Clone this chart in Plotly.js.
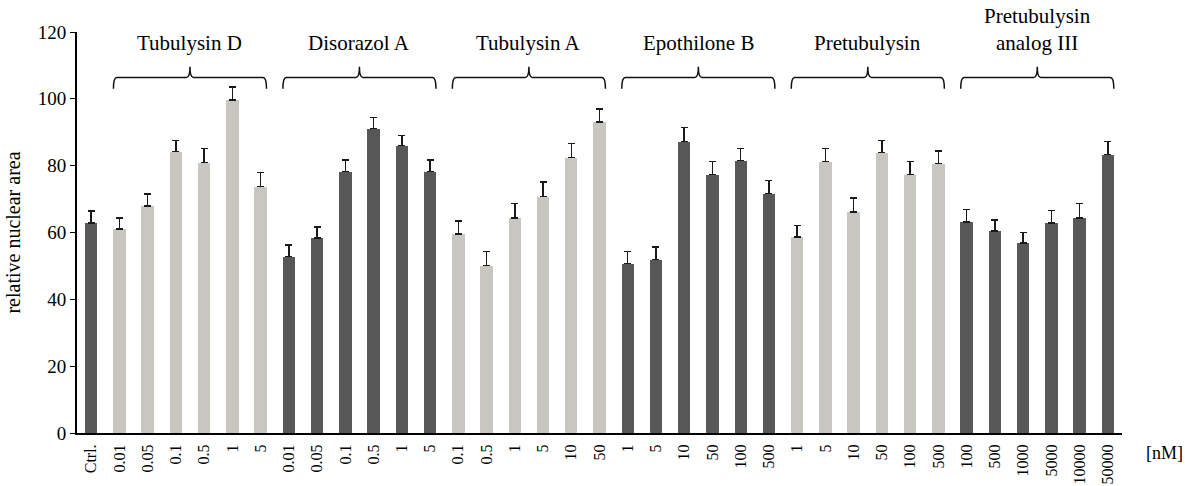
<!DOCTYPE html>
<html>
<head>
<meta charset="utf-8">
<script src="https://cdn.plot.ly/plotly-3.0.1.min.js"></script>
<style>html,body{margin:0;padding:0;background:#fff;}#chart{width:1185px;height:486px;}</style>
</head>
<body>
<div id="chart"></div>
<script>
// Tick labels (concentrations, nM), one per bar
const tickLabels = ["Ctrl.",
  "0.01","0.05","0.1","0.5","1","5",
  "0.01","0.05","0.1","0.5","1","5",
  "0.1","0.5","1","5","10","50",
  "1","5","10","50","100","500",
  "1","5","10","50","100","500",
  "100","500","1000","5000","10000","50000"];
// Bar heights (relative nuclear area)
const values = [62.9,
  61.1,68.0,84.2,80.9,99.7,73.7,
  52.8,58.4,78.2,91.1,86.0,78.2,
  59.6,50.1,64.4,70.7,82.4,93.1,
  50.7,51.9,87.2,77.3,81.5,71.6,
  58.7,81.2,66.2,83.9,77.3,80.6,
  63.2,60.5,56.9,62.9,64.4,83.3];
// Upper error (SEM) values
const errors = [3.6,
  3.3,3.5,3.4,4.3,3.9,4.2,
  3.5,3.3,3.5,3.3,3.0,3.5,
  3.8,4.2,4.3,4.4,4.2,3.8,
  3.6,3.8,4.2,4.0,3.7,3.9,
  3.4,4.0,4.2,3.7,4.0,3.8,
  3.7,3.3,3.1,3.7,4.3,3.9];
// Groups: name, first bar index, last bar index, shade
const groupNames = ["Tubulysin D","Disorazol A","Tubulysin A","Epothilone B","Pretubulysin","Pretubulysin<br>analog III"];
const groupStart = [1,7,13,19,25,31];
const groupEnd   = [6,12,18,24,30,36];
const groupDark  = [false,true,false,true,false,true];

const DARK = "#575757", LIGHT = "#c7c6c0";
const xs = tickLabels.map((_, i) => i);
const colors = xs.map(i => {
  if (i === 0) return DARK;
  const g = groupStart.findIndex((s, k) => i >= s && i <= groupEnd[k]);
  return groupDark[g] ? DARK : LIGHT;
});

const trace = {
  type: "bar",
  x: xs,
  y: values,
  width: 0.44,
  marker: {color: colors, line: {width: 0}},
  error_y: {type: "data", symmetric: false, array: errors, arrayminus: errors.map(() => 0),
            color: "#1a1a1a", thickness: 1.5, width: 3.5},
  hoverinfo: "x+y"
};

const FONT = '"Liberation Serif", "Times New Roman", Times, serif';
const shapes = [], annotations = [];
const yLine = 106.4, yEnd = 103.0, yPeak = 109.6, pad = 0.21, dx = 0.12;
groupNames.forEach((name, k) => {
  const x0 = groupStart[k] - pad, x1 = groupEnd[k] + pad, xm = (x0 + x1) / 2;
  const path = `M ${x0},${yEnd} Q ${x0},${yLine} ${x0+dx},${yLine} L ${xm-dx},${yLine} Q ${xm},${yLine} ${xm},${yPeak} ` +
               `Q ${xm},${yLine} ${xm+dx},${yLine} L ${x1-dx},${yLine} Q ${x1},${yLine} ${x1},${yEnd}`;
  shapes.push({type: "path", xref: "x", yref: "y", path: path, line: {color: "#111", width: 1.5}});
  annotations.push({xref: "x", yref: "y", x: xm, y: 112.6, yanchor: "bottom", xanchor: "center",
    text: name, showarrow: false, font: {family: FONT, size: 21, color: "#000"}});
});
annotations.push({xref: "paper", yref: "paper", x: 1.041, y: -0.05, xanchor: "center", yanchor: "middle",
  text: "[nM]", showarrow: false, font: {family: FONT, size: 18, color: "#000"}});

const layout = {
  width: 1185, height: 486,
  margin: {l: 77, r: 63, t: 32, b: 53},
  paper_bgcolor: "#fff", plot_bgcolor: "#fff",
  showlegend: false,
  font: {family: FONT, color: "#000"},
  xaxis: {range: [-0.5, tickLabels.length - 0.5], tickmode: "array", tickvals: xs, ticktext: tickLabels,
          tickangle: -90, showgrid: false, zeroline: false, showline: true, linecolor: "#000", linewidth: 2,
          ticks: "", ticklabelstandoff: 3, tickfont: {family: FONT, size: 16, color: "#000"}},
  yaxis: {range: [0, 120], tickvals: [0,20,40,60,80,100,120], showgrid: false, zeroline: false,
          showline: true, linecolor: "#000", linewidth: 2, ticks: "outside", ticklen: 5, tickwidth: 1,
          tickcolor: "#000", tickfont: {family: FONT, size: 19, color: "#000"},
          title: {text: "relative nuclear area", font: {family: FONT, size: 20, color: "#000"}, standoff: 12}},
  shapes: shapes,
  annotations: annotations,
  bargap: 0
};

Plotly.newPlot("chart", [trace], layout, {displayModeBar: false, staticPlot: true});
</script>
</body>
</html>
